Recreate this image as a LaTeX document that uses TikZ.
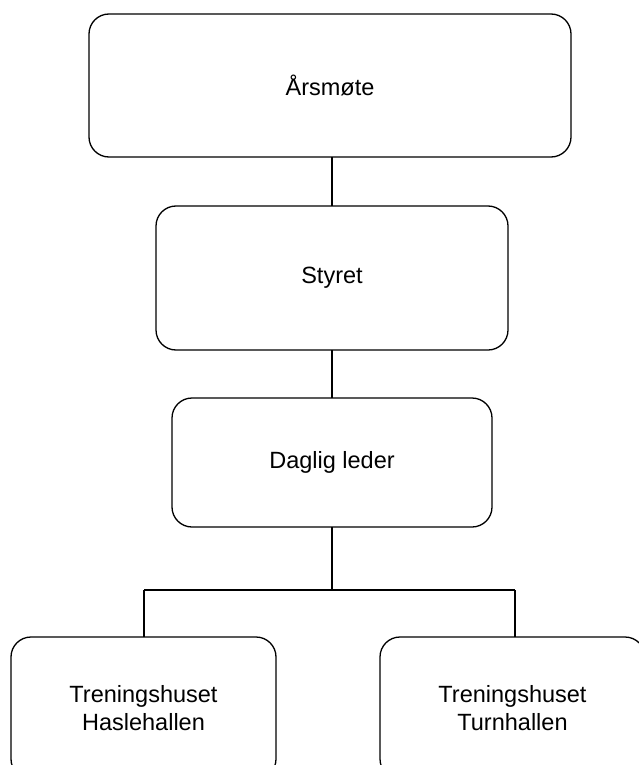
\documentclass[tikz,border=0pt]{standalone}
\usepackage{fontspec}
\setmainfont{Liberation Sans}
\begin{document}
\begin{tikzpicture}[x=1pt,y=-1pt,
  box/.style={draw, line width=1.3pt, rounded corners=20pt, inner sep=0pt, outer sep=0pt,
    align=center, font=\fontsize{23.5}{27.5}\selectfont},
  link/.style={line width=1.3pt}]
\useasboundingbox (0,0) rectangle (639,765);
\clip (0,0) rectangle (639,765);
\node[box, minimum width=482pt, minimum height=143pt] (A) at (330,85.5) {Årsmøte};
\node[box, minimum width=352pt, minimum height=144pt] (S) at (332,278) {Styret};
\node[box, minimum width=320pt, minimum height=129pt] (D) at (332,462.5) {Daglig leder};
\node[box, minimum width=265pt, minimum height=142pt] (L) at (143.5,708) {Treningshuset\\Haslehallen};
\node[box, minimum width=265pt, minimum height=142pt] (R) at (512.5,708) {Treningshuset\\Turnhallen};
\coordinate (hl) at (144,590);
\coordinate (hr) at (515,590);
\draw[link] (S.north |- A.south) -- (S.north);
\draw[link] (S.south) -- (D.north);
\draw[link] (D.south) -- (D.south |- hl);
\draw[link] (hl) -- (hr);
\draw[link] (hl) -- (hl |- L.north);
\draw[link] (hr) -- (hr |- R.north);
\end{tikzpicture}
\end{document}
